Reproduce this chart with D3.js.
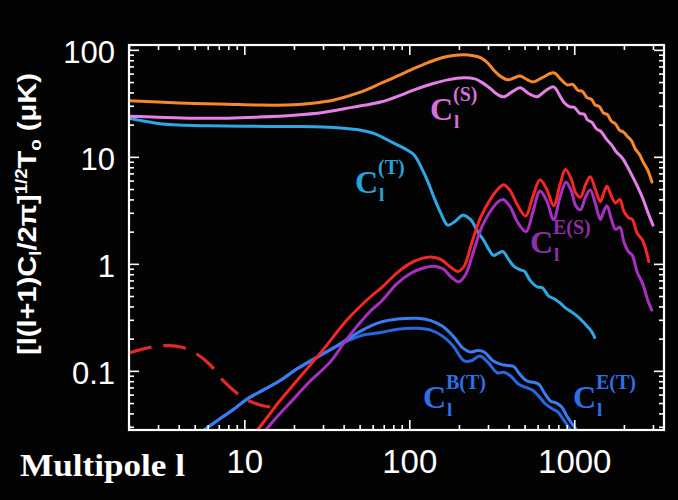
<!DOCTYPE html>
<html>
<head>
<meta charset="utf-8">
<script src="https://cdn.jsdelivr.net/npm/d3@7/dist/d3.min.js"></script>
<style>
  html, body { margin: 0; padding: 0; background: #000; }
  svg { display: block; }
</style>
</head>
<body>
<svg id="chart" width="678" height="500"></svg>
<script>
// ---------------- DATA (multipole l, value in μK) ----------------
const xTickValues = [10, 100, 1000];
const yTickValues = [0.1, 1, 10, 100];

const totalT = [[2,33.5],[3,32.5],[5,31.5],[8,31],[12,30.5],[18,30.5],[25,31.5],[35,34],[50,40],[68,49],[85,57],[107,67],[130,76],[156,84],[185,88.5],[214,90],[245,88],[272,84],[300,75],[324,65],[350,58],[395,52.5],[430,54.5],[470,57],[520,52.5],[565,50.2],[640,55],[750,61],[830,53],[907,47],[980,47.5],[1050,42],[1120,41],[1200,35.6],[1270,34.5],[1340,30.5],[1420,29.5],[1500,25.8],[1590,24.8],[1680,21.5],[1780,20.3],[1880,17.8],[1990,17],[2100,15.5],[2220,14.2],[2350,11.8],[2480,10.6],[2630,8.8],[2780,7.6],[2960,5.8]];

const scalarT = [[2,24],[3,23.5],[5,23],[8,23],[12,23.5],[20,24.5],[30,26],[45,29],[68,32.7],[90,38],[107,42.3],[140,48.5],[171,52.4],[214,54.8],[250,53.5],[272,50.2],[310,43.5],[345,38],[373,36.4],[420,40.5],[470,44.2],[530,39],[595,36.4],[670,41.5],[750,45.1],[820,37],[870,32],[940,29.3],[1000,29],[1080,25.5],[1150,25],[1200,22.2],[1280,21],[1360,18.3],[1450,17.3],[1580,14.4],[1680,13],[1800,11.1],[1950,9.8],[2100,8.1],[2250,6.6],[2400,5.4],[2600,4.1],[2800,3.0],[3000,2.3]];

const tensorT = [[2,23],[2.5,21.5],[3,20.5],[4,19.8],[6,19.5],[10,19.3],[20,19.2],[30,19],[40,18.5],[50,17.8],[60,16.7],[68,15.4],[80,13.5],[95,11.8],[107,10.4],[120,7.6],[130,5.8],[141,4.2],[155,3.0],[171,2.3],[190,2.5],[211,2.85],[235,2.6],[260,2.0],[283,1.65],[305,1.35],[324,1.2],[345,1.25],[370,1.3],[400,1.1],[430,0.95],[470,0.88],[500,0.85],[540,0.7],[595,0.61],[640,0.6],[700,0.5],[760,0.47],[823,0.43],[880,0.39],[950,0.36],[1030,0.33],[1100,0.3],[1200,0.26],[1270,0.235],[1330,0.205]];

const totalE = [[11,0.024],[12,0.028],[14,0.038],[16,0.05],[21,0.082],[30,0.157],[42,0.30],[58,0.49],[68,0.6],[84,0.82],[100,1.0],[118,1.12],[135,1.16],[155,1.1],[180,0.92],[197,0.85],[215,0.95],[240,1.6],[272,2.76],[310,4.0],[345,5.0],[373,5.5],[410,4.8],[450,3.6],[507,2.8],[560,4.2],[620,6.1],[680,5.0],[750,3.5],[820,5.5],[884,7.6],[960,6.2],[1020,4.6],[1090,4.2],[1170,5.5],[1250,6.5],[1340,5.0],[1440,3.8],[1510,4.6],[1580,5.3],[1680,4.3],[1780,3.7],[1890,4.0],[2000,3.1],[2130,2.7],[2250,2.6],[2400,1.95],[2600,1.65],[2830,1.05]];

const scalarE = [[12.5,0.024],[13.5,0.028],[16,0.038],[20,0.055],[25,0.08],[33,0.12],[42,0.2],[58,0.36],[68,0.45],[84,0.65],[100,0.8],[118,0.9],[140,0.95],[160,0.9],[180,0.75],[200,0.68],[220,0.8],[245,1.3],[275,2.2],[310,3.1],[345,3.8],[370,4.0],[410,3.4],[450,2.5],[510,2.0],[560,3.0],[620,4.8],[680,3.9],[750,2.6],[820,4.2],[890,5.8],[960,4.8],[1020,3.5],[1090,3.2],[1170,4.2],[1250,4.9],[1340,3.7],[1440,2.6],[1510,3.1],[1580,3.5],[1680,2.6],[1780,2.1],[1890,2.2],[2000,1.6],[2130,1.3],[2250,1.2],[2400,0.85],[2600,0.65],[2800,0.45],[2950,0.37]];

const tensorE = [[5,0.024],[5.7,0.028],[7,0.035],[8.5,0.043],[10.3,0.054],[13,0.066],[16.7,0.082],[21,0.105],[27.9,0.135],[35,0.165],[42,0.197],[52,0.24],[67,0.285],[85,0.305],[111,0.31],[135,0.295],[160,0.26],[185,0.21],[210,0.165],[235,0.15],[260,0.155],[285,0.15],[320,0.125],[360,0.115],[400,0.112],[430,0.11],[470,0.092],[520,0.08],[570,0.078],[610,0.075],[660,0.062],[720,0.052],[780,0.05],[840,0.046],[900,0.038],[970,0.032],[1050,0.027],[1100,0.024]];

const tensorB = [[5,0.024],[5.7,0.028],[7,0.035],[8.5,0.043],[10.3,0.054],[13,0.066],[16.7,0.082],[21,0.105],[27.9,0.135],[35,0.165],[42,0.19],[52,0.215],[67,0.228],[85,0.245],[111,0.25],[135,0.24],[160,0.21],[185,0.17],[215,0.124],[240,0.125],[267,0.138],[300,0.12],[341,0.096],[375,0.097],[410,0.09],[460,0.075],[510,0.07],[560,0.066],[610,0.058],[670,0.049],[740,0.044],[800,0.041],[870,0.034],[950,0.028],[1000,0.024]];

const reionE = [[2,0.147],[2.8,0.168],[3.5,0.172],[4.2,0.166],[5,0.148],[6.2,0.114],[7.5,0.08],[9,0.062],[10.5,0.053],[12.5,0.048],[15.5,0.045]];

// ---------------- LAYOUT ----------------
const svg = d3.select("#chart");
const W = 678, H = 500;
const plot = { left: 129, right: 664, top: 45, bottom: 430 };

svg.append("rect").attr("width", W).attr("height", H).attr("fill", "#030303");

const x = d3.scaleLog().domain([2, 3500]).range([plot.left, plot.right]);
const y = d3.scaleLog().domain([0.028, 111]).range([plot.bottom, plot.top]);

svg.append("clipPath").attr("id", "clip")
  .append("rect").attr("x", plot.left).attr("y", plot.top)
  .attr("width", plot.right - plot.left).attr("height", plot.bottom - plot.top);

// ---------------- ANNOTATION LABELS (behind curves) ----------------
const labels = svg.append("g");
function cLabel(px, py, sup, color) {
  const g = labels.append("g").attr("fill", color)
    .attr("font-family", "'Liberation Serif', 'Times New Roman', serif")
    .attr("font-weight", "bold");
  g.append("text").attr("x", px).attr("y", py).attr("font-size", 32).text("C");
  g.append("text").attr("x", px + 24).attr("y", py + 8).attr("font-size", 19).text("l");
  g.append("text").attr("x", px + 23).attr("y", py - 19).attr("font-size", 20).text(sup);
}
cLabel(530, 253, "E(S)", "#8e2fa8");

// ---------------- CURVES ----------------
const line = d3.line()
  .x(d => x(d[0]))
  .y(d => y(d[1]))
  .curve(d3.curveCatmullRom.alpha(0.5));

const curves = svg.append("g").attr("clip-path", "url(#clip)")
  .attr("fill", "none").attr("stroke-linejoin", "round").attr("stroke-linecap", "round");

function draw(data, color, width, dash) {
  const p = curves.append("path").attr("d", line(data))
    .attr("stroke", color).attr("stroke-width", width);
  if (dash) p.attr("stroke-dasharray", dash).attr("stroke-linecap", "butt");
}
draw(tensorT, "#2ea8e2", 3);
draw(tensorB, "#2a66e0", 3);
draw(tensorE, "#3a7df2", 3);
draw(scalarE, "#a82fc2", 3);
draw(totalE, "#f42626", 3);
draw(scalarT, "#e67fe8", 3);
draw(totalT, "#f5872c", 3);
draw(reionE, "#e42828", 3.2, "23,12");

// other labels
cLabel(430, 120, "(S)", "#d470d8");
cLabel(355, 193, "(T)", "#28a2dc");
cLabel(423, 408, "B(T)", "#2e6fe8");
cLabel(573, 408, "E(T)", "#2e6fe8");

// ---------------- AXES ----------------
const majorLen = 10, minorLen = 5;
const minorX = x.ticks().filter(v => !xTickValues.includes(v));
const minorY = y.ticks().filter(v => !yTickValues.includes(v));

function axisGroup(axis, tx, ty) {
  const g = svg.append("g").attr("transform", `translate(${tx},${ty})`).call(axis);
  g.select(".domain").remove();
  g.selectAll(".tick line").attr("stroke", "#fff").attr("stroke-width", 1.6);
  return g;
}
// bottom
const xb = axisGroup(d3.axisBottom(x).tickValues(xTickValues).tickSize(-majorLen)
  .tickPadding(20).tickFormat(d3.format("d")), 0, plot.bottom);
xb.selectAll("text").attr("fill", "#fff").attr("font-size", 33)
  .attr("font-family", "'Liberation Sans', Arial, sans-serif");
axisGroup(d3.axisBottom(x).tickValues(minorX).tickSize(-minorLen).tickFormat(""), 0, plot.bottom);
// top
axisGroup(d3.axisTop(x).tickValues(xTickValues).tickSize(-majorLen).tickFormat(""), 0, plot.top);
axisGroup(d3.axisTop(x).tickValues(minorX).tickSize(-minorLen).tickFormat(""), 0, plot.top);
// left
const yl = axisGroup(d3.axisLeft(y).tickValues(yTickValues).tickSize(-majorLen)
  .tickPadding(14).tickFormat(d => d >= 1 ? d3.format("d")(d) : String(d)), plot.left, 0);
yl.selectAll("text").attr("fill", "#fff").attr("font-size", 31).attr("dy", "0.42em")
  .attr("font-family", "'Liberation Sans', Arial, sans-serif");
axisGroup(d3.axisLeft(y).tickValues(minorY).tickSize(-minorLen).tickFormat(""), plot.left, 0);
// right
axisGroup(d3.axisRight(y).tickValues(yTickValues).tickSize(-majorLen).tickFormat(""), plot.right, 0);
axisGroup(d3.axisRight(y).tickValues(minorY).tickSize(-minorLen).tickFormat(""), plot.right, 0);

// frame
svg.append("rect").attr("x", plot.left).attr("y", plot.top)
  .attr("width", plot.right - plot.left).attr("height", plot.bottom - plot.top)
  .attr("fill", "none").attr("stroke", "#fff").attr("stroke-width", 2.2);

// ---------------- AXIS TITLES ----------------
svg.append("text").attr("x", 20).attr("y", 476)
  .attr("fill", "#fff").attr("font-size", 32).attr("font-weight", "bold")
  .attr("font-family", "'Liberation Serif', 'Times New Roman', serif")
  .attr("textLength", 165).attr("lengthAdjust", "spacingAndGlyphs")
  .text("Multipole l");

const yt = svg.append("text")
  .attr("transform", "translate(36,355) rotate(-90)")
  .attr("fill", "#fff").attr("font-size", 25).attr("font-weight", "bold")
  .attr("font-family", "'Liberation Sans', Arial, sans-serif")
  .attr("textLength", 282).attr("lengthAdjust", "spacingAndGlyphs");
yt.append("tspan").text("[l(l+1)C");
yt.append("tspan").attr("font-size", 16).attr("dy", 5).text("l");
yt.append("tspan").attr("dy", -5).text("/2π]");
yt.append("tspan").attr("font-size", 16).attr("dy", -9).text("1/2");
yt.append("tspan").attr("dy", 9).text("T");
yt.append("tspan").attr("font-size", 16).attr("dy", 5).text("o");
yt.append("tspan").attr("dy", -5).text(" (μK)");
</script>
</body>
</html>
